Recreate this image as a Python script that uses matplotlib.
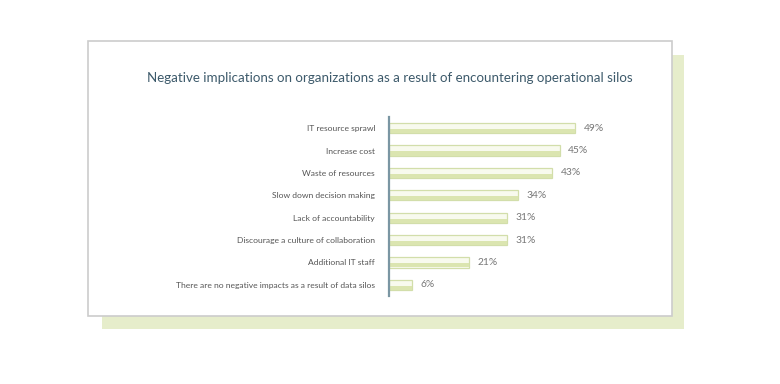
import matplotlib
matplotlib.use("Agg")
import matplotlib.pyplot as plt
from matplotlib.patches import Rectangle

categories = [
    "IT resource sprawl",
    "Increase cost",
    "Waste of resources",
    "Slow down decision making",
    "Lack of accountability",
    "Discourage a culture of collaboration",
    "Additional IT staff",
    "There are no negative impacts as a result of data silos",
]
values = [49, 45, 43, 34, 31, 31, 21, 6]
value_labels = ["49%", "45%", "43%", "34%", "31%", "31%", "21%", "6%"]
title = "Negative implications on organizations as a result of encountering operational silos"

W, H = 780, 384
fig = plt.figure(figsize=(W / 100, H / 100), dpi=100)
fig.patch.set_facecolor("white")

def fx(px):
    return px / W

def fy(py):
    return 1 - py / H

# shadow
fig.patches.append(Rectangle((fx(102), fy(329)), fx(684) - fx(102), fy(55) - fy(329),
                             transform=fig.transFigure, facecolor="#e6edcb",
                             edgecolor="none", zorder=0))
# card
fig.patches.append(Rectangle((fx(88), fy(316)), fx(672) - fx(88), fy(41) - fy(316),
                             transform=fig.transFigure, facecolor="white",
                             edgecolor="#cccccc", linewidth=1.2, zorder=1))

fig.text(fx(390), fy(78), title, ha="center", va="center", fontsize=9.6,
         color="#3d5a6b", family="Lato", zorder=3)

ax = fig.add_axes([fx(389), fy(296), fx(389 + 228) - fx(389), fy(117) - fy(296)])
ax.set_facecolor("none")
ax.set_zorder(3)
y = list(range(len(categories)))
bh = 0.46
ax.barh(y, values, height=bh, color="#f8faee", edgecolor="#d2deaa", linewidth=0.9)
# bottom stripe of each bar
ax.barh([v + bh * 0.28 for v in y], values, height=bh * 0.40, color="#dbe5b0",
        edgecolor="none")
ax.set_xlim(0, 60)
ax.set_ylim(len(categories) - 0.5, -0.5)
for s in ["top", "right", "bottom"]:
    ax.spines[s].set_visible(False)
ax.spines["left"].set_color("#7a96a3")
ax.spines["left"].set_linewidth(1.6)
ax.set_xticks([])
ax.set_yticks(y)
ax.set_yticklabels(categories, fontsize=6.1, color="#555555", family="Lato")
ax.tick_params(axis="y", length=0, pad=10)
for yi, v, lab in zip(y, values, value_labels):
    ax.text(v + 2.2, yi, lab, va="center", ha="left", fontsize=7.4, color="#777777",
            family="Lato")

fig.savefig("out.png", dpi=100)
